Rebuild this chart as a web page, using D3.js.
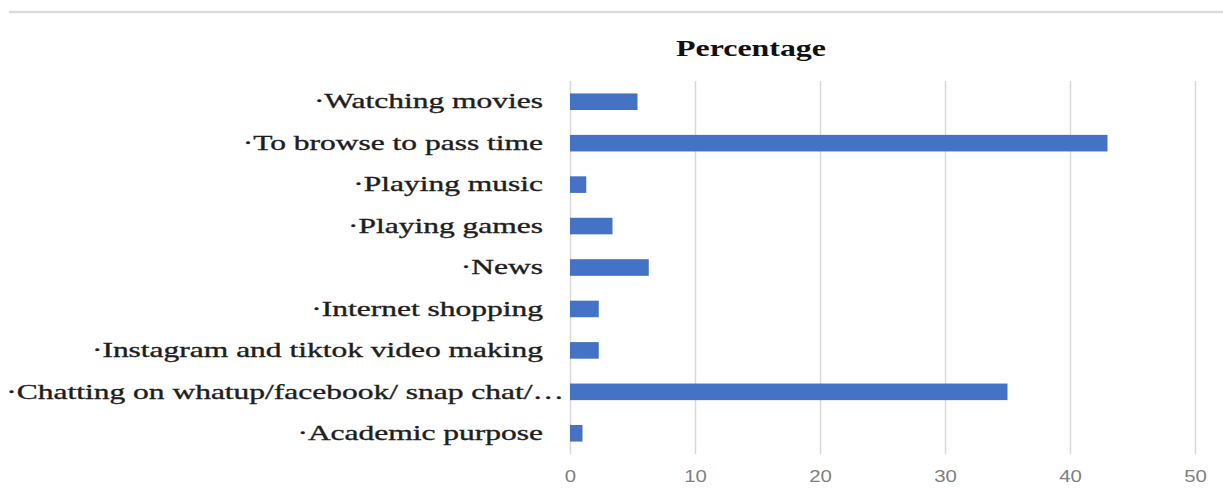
<!DOCTYPE html>
<html>
<head>
<meta charset="utf-8">
<script src="https://cdn.jsdelivr.net/npm/d3@7"></script>
<style>
  body { margin: 0; background: #fff; }
  svg { display: block; }
</style>
</head>
<body>
<script>
// categories, top to bottom as shown
var categories = [
    "·Watching movies",
    "·To browse to pass time",
    "·Playing music",
    "·Playing games",
    "·News",
    "·Internet shopping",
    "·Instagram and tiktok video making",
    "·Chatting on whatup/facebook/ snap chat/…",
    "·Academic purpose"
];
// percentage values
var percentages = [5.4, 43.0, 1.3, 3.4, 6.3, 2.3, 2.3, 35.0, 1.0];
var xTicks = [0, 10, 20, 30, 40, 50];
var title = "Percentage";

window.onload = function(){
    drawBar()
};

function drawBar(){
    var width = 1223, height = 490;
    var svg = d3.select("body").append("svg").attr("width", width).attr("height", height);

    // plot area
    var margin = { top: 81, right: 28, bottom: 36, left: 570 };
    var w = width - margin.left - margin.right;
    var h = height - margin.top - margin.bottom;

    // the source picture is stretched sideways, so the text is too
    var stretch = 1.5;

    // thin grey rule along the top of the picture
    svg.append("line")
        .attr("x1", 9).attr("x2", width)
        .attr("y1", 12).attr("y2", 12)
        .attr("stroke", "#dcdcdc")
        .attr("stroke-width", 2.5);

    var g = svg.append("g").attr("transform", "translate(" + margin.left + "," + margin.top + ")");

    var xScale = d3.scaleLinear()
        .domain([0, 50])
        .range([0, w]);

    var yScale = d3.scaleBand()
        .domain(categories)
        .range([0, h])
        .paddingInner(0.6)
        .paddingOuter(0.3);

    // vertical grid lines
    g.append("g")
        .attr("class", "grid")
        .attr("transform", "translate(0," + h + ")")
        .call(d3.axisBottom(xScale).tickValues(xTicks).tickSize(-h).tickFormat(""))
        .call(function(s){ s.select(".domain").remove(); })
        .selectAll("line")
        .attr("stroke", "#d9d9d9")
        .attr("stroke-width", 1.5);

    // bars
    g.selectAll(".bar")
        .data(percentages)
        .enter()
        .append("rect")
        .attr("class", "bar")
        .attr("x", xScale(0))
        .attr("y", function(d, i) { return yScale(categories[i]); })
        .attr("width", function(d) { return xScale(d) - xScale(0); })
        .attr("height", yScale.bandwidth())
        .attr("fill", "#4472c4");

    // x axis labels
    var xAxis = g.append("g")
        .attr("class", "axis-x")
        .attr("transform", "translate(0," + h + ")")
        .call(d3.axisBottom(xScale).tickValues(xTicks).tickSize(0).tickPadding(16));
    xAxis.select(".domain").remove();
    xAxis.selectAll("text")
        .attr("fill", "#808080")
        .attr("transform", "scale(1.2,1)")
        .style("font-family", "'Liberation Sans', Arial, sans-serif")
        .style("font-size", "17px");

    // y axis labels
    var yAxis = g.append("g")
        .attr("class", "axis-y")
        .call(d3.axisLeft(yScale).tickSize(0));
    yAxis.select(".domain").remove();
    yAxis.selectAll("text")
        .attr("x", 0)
        .attr("transform", function(d) {
            // the cut-off label spills its dots past the others
            var shift = d.slice(-1) == "…" ? -6 : -27;
            return "translate(" + shift + ",0) scale(" + stretch + ",1)";
        })
        .attr("fill", "#1e1e1e")
        .attr("stroke", "#1e1e1e")
        .attr("stroke-width", 0.35)
        .style("font-family", "'Liberation Serif', 'Times New Roman', serif")
        .style("font-size", "21px");

    // title
    svg.append("text")
        .attr("transform", "translate(751,56) scale(1.33,1)")
        .style("text-anchor", "middle")
        .style("font-family", "'Liberation Serif', 'Times New Roman', serif")
        .style("font-weight", "bold")
        .style("font-size", "24px")
        .attr("fill", "#111")
        .text(title);
}
</script>
</body>
</html>
